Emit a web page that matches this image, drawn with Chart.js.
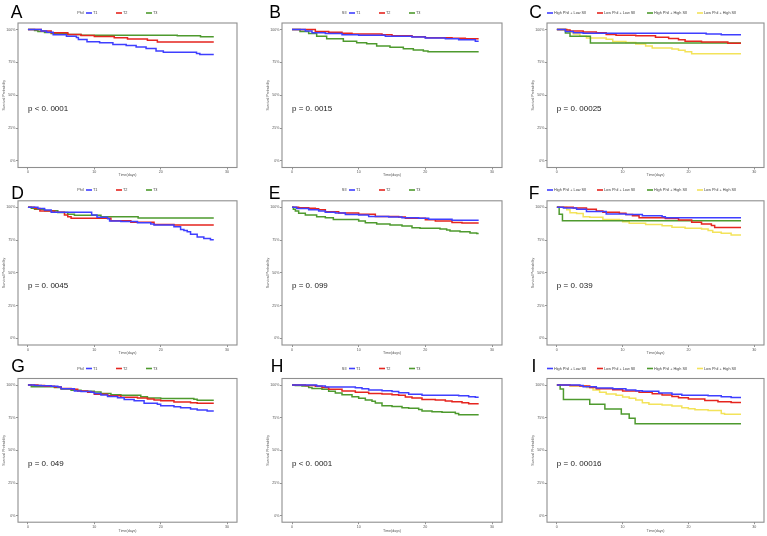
<!DOCTYPE html>
<html><head><meta charset="utf-8">
<script src="https://cdn.jsdelivr.net/npm/chart.js@4/dist/chart.umd.min.js"></script>
<style>
html,body{margin:0;padding:0;background:#fff;}
#wrap{position:relative;width:767px;height:536px;overflow:hidden;background:#fff;}
#wrap canvas{position:absolute;}
</style></head><body><div id="wrap"></div>
<script>
// ---------- labels / ticks ----------
const xTicks = [0, 10, 20, 30];
const yTicks = [0, 25, 50, 75, 100];
const groups3 = ['T1', 'T2', 'T3'];
const groups4 = ['High Phil + Low SII', 'Low Phil + Low SII', 'High Phil + High SII', 'Low Phil + High SII'];
const panelLetters = ['A', 'B', 'C', 'D', 'E', 'F', 'G', 'H', 'I'];
const legendTitles = ['Phil', 'SII', ''];
const pValues = ['p < 0. 0001', 'p = 0. 0015', 'p = 0. 00025', 'p = 0. 0045', 'p = 0. 099', 'p = 0. 039', 'p = 0. 049', 'p < 0. 0001', 'p = 0. 00016'];
const xTitle = 'Time(days)';
const yTitle = 'Survival Probability';

// ---------- survival data: [time (days), survival %] ----------
const A_T1 = [[0,100],[2,99],[2.8,98],[3.8,96],[5.8,95],[7.3,94],[7.6,92.5],[8.9,90.8],[10.8,90],[12.8,88.6],[14.8,87.8],[16.3,86.8],[17.8,85.6],[19.3,83.6],[20.4,82.7],[25.4,81.8],[25.9,81],[28,81]];
const A_T2 = [[0,100],[1.3,100],[2,99],[3.5,97.5],[6,96.2],[8,95.4],[10,94.8],[13,93.8],[15,92.8],[18,91.8],[19.5,90.6],[28,90.6]];
const A_T3 = [[0,100],[1,99.2],[1.5,98.5],[2.5,97.8],[3.5,97],[6,96.2],[8,95.6],[22.5,95.2],[26,94.6],[28,94.6]];

const B_T1 = [[0,100],[2,99],[3,97.5],[5,97],[7.5,96],[10,95.6],[14,95],[18,94.4],[20,93.6],[23,93],[25,92.2],[27.5,91.2],[28,91.2]];
const B_T2 = [[0,100],[3.5,98.6],[5.5,98],[7.5,97.2],[9,96.6],[13.5,96],[15,95.2],[18,94.5],[20,93.7],[24,93.3],[26,93],[28,93]];
const B_T3 = [[0,100],[1.2,98.6],[2.5,97],[3.7,95],[5.2,93],[7.7,91.2],[9.7,90],[11.2,89.2],[12.7,87.4],[14.7,86.6],[16.7,85.4],[18.2,84.4],[19.7,83.6],[20.4,83.2],[28,83.2]];

const C_HL = [[0,100],[1.3,98.6],[2.5,97.6],[4,97.2],[22.7,96.6],[25,96],[28,96]];
const C_LL = [[0,100],[1.5,99.6],[2,99],[4,98.2],[6,97.6],[7.5,96.2],[9,95.6],[12,95.2],[15,94.2],[17,93.2],[18.5,92.2],[19.5,91.2],[22,90.6],[26,89.6],[28,89.6]];
const C_HH = [[0,100],[1.3,97.4],[2,95],[5.1,89.8],[28,89.8]];
const C_LH = [[0,100],[1.5,99.2],[2,98.2],[2.5,96.6],[3.5,95],[4.5,93.6],[7.5,92.6],[8.5,91],[10.5,90.2],[12,89],[13.5,87.4],[14.5,86],[17.5,85.2],[18.5,84.2],[19.5,83.2],[20.5,81.6],[28,81.6]];

const D_T1 = [[0,100],[1.5,99.2],[2.5,98],[3.5,96.2],[9.6,94.1],[10.4,92.4],[12,91.3],[12.3,89.6],[14,89.2],[16.5,88.3],[18.5,87.3],[19,86.5],[22,85.2],[23,83.2],[23.5,82.4],[24,81.4],[24.5,79.4],[25.5,77.4],[26.5,76.3],[27.5,75.2],[28,75.2]];
const D_T2 = [[0,100],[1,99.2],[1.8,97.2],[4,96.2],[5.5,94.2],[6,92.9],[6.5,91.6],[12.5,89.8],[15.5,88.6],[19,87],[22,86.5],[28,86.5]];
const D_T3 = [[0,100],[0.5,99.3],[1,98.6],[2.5,97.4],[4.5,96],[6,94.8],[7,93.9],[11,92.9],[16.6,91.9],[28,91.9]];

const E_T1 = [[0,100],[0.7,99.2],[2.5,98.2],[4,97.2],[5,96.2],[6.5,95.6],[8,94.6],[10,94.1],[11.5,93.1],[14.5,92.6],[16.5,92.1],[19,91.6],[20.5,91],[24,90.1],[28,90.1]];
const E_T2 = [[0,100],[1,99.7],[2.5,99.4],[3.5,99],[4,98.2],[5,96.7],[7,95.7],[10,94.7],[12.5,93.1],[16,92.6],[17,91.6],[20,90.6],[21.5,89.6],[24,88.5],[25.5,88],[28,88]];
const E_T3 = [[0,100],[0.2,98.6],[0.5,97.2],[1,95.5],[2,94.1],[3.7,92.9],[5,92.1],[6.2,90.8],[10,89.6],[11,88.3],[12.7,87.3],[14.7,86.5],[16.5,85.8],[18,84.5],[19.2,84],[22.2,83.5],[23.2,82.7],[23.7,81.9],[25.2,81.4],[26.7,80.4],[27.7,80],[28,80]];

const F_HL = [[0,100],[1,99.6],[3,98.6],[4.5,96.8],[7.5,95],[10.5,94.5],[13,93.6],[16,92.9],[16.5,92.1],[28,92.1]];
const F_LL = [[0,100],[2.5,99.6],[4.5,98.6],[6,97.2],[7,96.2],[9.5,95.5],[10.5,94.6],[11.5,93.6],[12.5,92.1],[16.5,91.5],[18.5,90.3],[20.5,88.6],[22,87.3],[23.5,86.2],[24,84.7],[28,84.7]];
const F_HH = [[0,100],[0.35,94.7],[0.85,89.8],[28,89.8]];
const F_LH = [[0,100],[1.5,98.2],[2,95.9],[3,95.3],[4,92.9],[5,92.4],[7,90.8],[9.5,90.4],[10,89],[11,87.8],[13.5,87],[16,86],[17.5,84.8],[19.5,84],[22,83.5],[23,82.4],[23.7,81],[25,80.2],[26.5,79],[28,79]];

const G_T1 = [[0,100],[1,99.6],[2,99.4],[3.5,99],[4.5,98.4],[5,97.2],[7,95.4],[8,95],[9.5,94.5],[10,93.6],[11,92.3],[12,91.3],[13.5,90.3],[14.5,89],[16,88],[17.5,86],[19.5,85.2],[20,84.2],[22,83.4],[23,82.6],[24.5,81.6],[25.5,80.9],[27,80.1],[28,80.1]];
const G_T2 = [[0,100],[1.5,99.6],[2.5,99],[4,98.4],[5,97.4],[6.5,96.7],[7.5,95.4],[9,94.4],[10,92.9],[12,91.8],[14,90.6],[16.5,90.1],[18,89.3],[19,88.6],[20,88],[22,87],[24.5,86.5],[25.5,86],[28,86]];
const G_T3 = [[0,100],[0.5,98.7],[4,98.2],[5,97],[6.5,96],[8,95.2],[10,94.6],[11,93.6],[12.5,92.6],[14,92.1],[17,91.1],[18,90.1],[20,89.6],[25,89.1],[25.5,88.3],[28,88.3]];

const H_T1 = [[0,100],[3.7,99.2],[5,98.5],[9.5,98],[10.5,97.2],[11.5,96.2],[13.5,95.6],[15,95],[16,94.1],[17.5,92.9],[19.5,92.1],[25,91.8],[26.5,91],[27.5,90.6],[28,90.6]];
const H_T2 = [[0,100],[2,99.6],[3.5,99],[4.5,98.2],[5.5,96.7],[7.5,95.4],[9.5,94.4],[11.5,93.6],[13.5,93.1],[15,92.5],[16,92.1],[17,90.8],[18,90.1],[19.5,89],[21.5,88.5],[23,87.8],[24,87.2],[25.5,86.5],[26.5,85.6],[28,85.6]];
const H_T3 = [[0,100],[0.5,99.6],[1.5,99.2],[2.5,98.2],[3,97.4],[4.5,96.7],[5.5,95.2],[6.5,93.9],[7.5,92.6],[9,91.1],[10,89.8],[11,88.5],[12,87.5],[12.5,86.2],[13.5,84.2],[15,83.6],[16.5,82.7],[17.5,82.2],[19,81.2],[19.5,80.1],[21,79.6],[22.5,79.1],[24.5,78.3],[25,77.2],[28,77.2]];

const I_HL = [[0,100],[3.5,99.7],[4,98.7],[6,97.7],[8.5,97.2],[10.5,96.2],[12,95.7],[13,95.2],[15.5,93.9],[17.5,92.9],[19,92.1],[23,91.8],[25,91],[26.5,90.4],[28,90.4]];
const I_LL = [[0,100],[2,99.7],[3.5,99.2],[5,98.2],[6,97.2],[8.5,96.4],[10,95.4],[12.5,94.4],[14.5,93.4],[16,92.3],[17.5,91.3],[18.5,90.3],[20,89.3],[22.5,88.2],[24.5,87.2],[26.5,86.7],[28,86.7]];
const I_HH = [[0,100],[0.5,97],[1,89],[5,85.2],[7.3,81.6],[9.8,77.8],[11,74.5],[11.9,70.4],[28,70.4]];
const I_LH = [[0,100],[2,99.2],[4.5,98.2],[5.5,96.2],[6.5,94.4],[7.5,93.1],[9,92.1],[10,90.8],[11,89.8],[12,88.5],[13,86.5],[14,85.2],[16,84.7],[17.5,84],[19,82.7],[20,81.9],[21,81.1],[23,80.6],[25,78.3],[25.5,77.6],[28,77.6]];

const panelSeries = [
  [A_T1, A_T2, A_T3], [B_T1, B_T2, B_T3], [C_HL, C_LL, C_HH, C_LH],
  [D_T1, D_T2, D_T3], [E_T1, E_T2, E_T3], [F_HL, F_LL, F_HH, F_LH],
  [G_T1, G_T2, G_T3], [H_T1, H_T2, H_T3], [I_HL, I_LL, I_HH, I_LH]
];

// ---------- styles / layout ----------
const seriesColors = ['#3f3fff', '#e5251f', '#4e9a2e', '#f3e35a'];
const FONT = '"Liberation Sans", Arial, sans-serif';
const cols = [
  {x: 0,   w: 256, left: 18, right: 237, legX: 86, pitch: 30},
  {x: 256, w: 254, left: 26, right: 246, legX: 93, pitch: 30},
  {x: 510, w: 257, left: 37, right: 254, legX: 37, pitch: 50}
];
const rows = [
  {y: 0,   h: 178, top: 23,   bottom: 167.5, legY: 13,   capTop: 5},
  {y: 178, h: 178, top: 22.8, bottom: 167,   legY: 12,   capTop: 8},
  {y: 356, h: 178, top: 22.5, bottom: 166.2, legY: 12.5, capTop: 3.5}
];
const letterCX = [16.5, 19, 25.5, 17.5, 18.5, 24, 18, 21, 24];

const wrap = document.getElementById('wrap');

const decor = {
  id: 'decor',
  afterDraw(chart, args, o) {
    const ctx = chart.ctx, ca = chart.chartArea;
    ctx.save();
    // panel box
    ctx.strokeStyle = '#8f8f8f'; ctx.lineWidth = 1.1;
    ctx.strokeRect(ca.left, ca.top, ca.right - ca.left, ca.bottom - ca.top);
    // panel letter
    ctx.fillStyle = '#000'; ctx.font = '17.5px ' + FONT;
    ctx.textAlign = 'center'; ctx.textBaseline = 'alphabetic';
    ctx.fillText(o.letter, o.letterX, o.capTop + 12.6);
    // legend
    ctx.font = '3.8px ' + FONT; ctx.textBaseline = 'middle'; ctx.fillStyle = '#444';
    if (o.title) { ctx.textAlign = 'right'; ctx.fillText(o.title, o.legX - 2.5, o.legY); }
    chart.data.datasets.forEach((d, i) => {
      const x = o.legX + i * o.pitch;
      ctx.strokeStyle = d.borderColor; ctx.lineWidth = 1.6;
      ctx.beginPath(); ctx.moveTo(x, o.legY); ctx.lineTo(x + 6, o.legY); ctx.stroke();
      ctx.textAlign = 'left'; ctx.fillStyle = '#444';
      ctx.fillText(d.label, x + 7, o.legY);
    });
    // p-value
    const sx = chart.scales.x, sy = chart.scales.y;
    ctx.font = '8px ' + FONT; ctx.fillStyle = '#1a1a1a';
    ctx.textAlign = 'left'; ctx.textBaseline = 'middle';
    ctx.fillText(o.p, sx.getPixelForValue(0), sy.getPixelForValue(40));
    ctx.restore();
  }
};

panelSeries.forEach((series, idx) => {
  const c = cols[idx % 3], r = rows[Math.floor(idx / 3)];
  const cv = document.createElement('canvas');
  cv.width = c.w; cv.height = r.h;
  cv.style.left = c.x + 'px'; cv.style.top = r.y + 'px';
  cv.style.width = c.w + 'px'; cv.style.height = r.h + 'px';
  wrap.appendChild(cv);
  const names = series.length === 4 ? groups4 : groups3;
  const datasets = series.map((s, i) => ({
    label: names[i],
    data: s.map(p => ({x: p[0], y: p[1]})),
    borderColor: seriesColors[i],
    backgroundColor: seriesColors[i],
    borderWidth: 1.5,
    pointRadius: 0,
    stepped: true,
    fill: false
  }));
  const yAxisW = 16;
  const xAxisH = r.h - r.bottom;
  new Chart(cv, {
    type: 'line',
    data: {datasets},
    options: {
      responsive: false, animation: false, devicePixelRatio: 1,
      layout: {padding: {left: c.left - yAxisW, top: r.top, right: c.w - c.right, bottom: 0}},
      plugins: {
        legend: {display: false}, tooltip: {enabled: false},
        decor: {letter: panelLetters[idx], letterX: letterCX[idx], capTop: r.capTop,
                title: legendTitles[idx % 3], legX: c.legX, pitch: c.pitch, legY: r.legY, p: pValues[idx]}
      },
      scales: {
        x: {
          type: 'linear', min: -1.5, max: 31.5,
          afterBuildTicks: s => { s.ticks = xTicks.map(v => ({value: v})); },
          afterFit: s => { s.height = xAxisH; },
          grid: {drawOnChartArea: false, drawTicks: true, tickLength: 2, color: '#777', lineWidth: 0.8},
          border: {display: false},
          ticks: {font: {size: 3.6, family: FONT}, color: '#555', padding: 0.5, maxRotation: 0, autoSkip: false},
          title: {display: true, text: xTitle, font: {size: 3.6, family: FONT}, color: '#555', padding: {top: 0, bottom: 1}}
        },
        y: {
          type: 'linear', min: -5, max: 105,
          afterBuildTicks: s => { s.ticks = yTicks.map(v => ({value: v})); },
          afterFit: s => { s.width = yAxisW; },
          grid: {drawOnChartArea: false, drawTicks: true, tickLength: 2, color: '#777', lineWidth: 0.8},
          border: {display: false},
          ticks: {font: {size: 3.6, family: FONT}, color: '#555', padding: 0.5, autoSkip: false, callback: v => v + '%'},
          title: {display: true, text: yTitle, font: {size: 3.6, family: FONT}, color: '#555', padding: {top: 0, bottom: 0}}
        }
      }
    },
    plugins: [decor]
  });
});
</script>
</body></html>
